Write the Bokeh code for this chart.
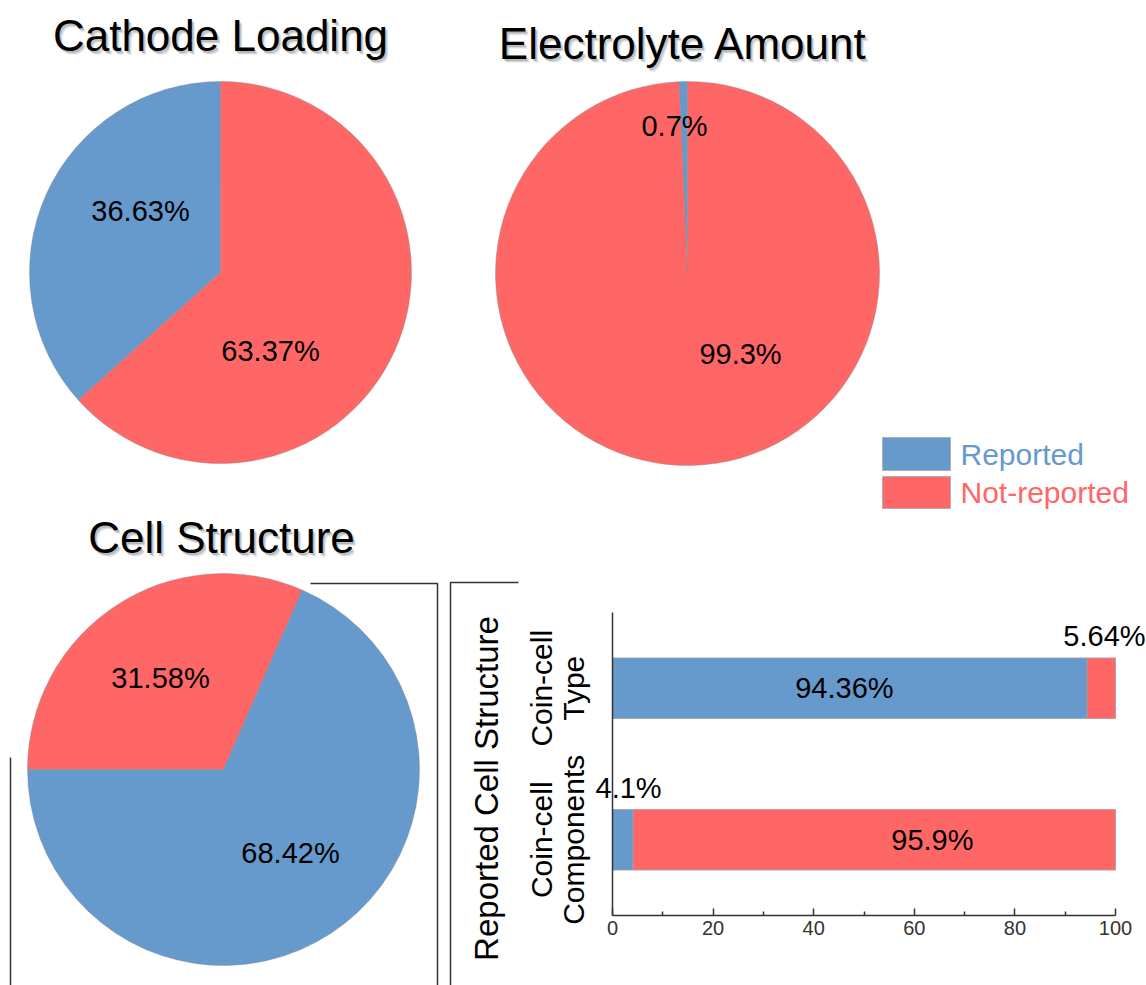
import math

from bokeh.core.properties import value
from bokeh.embed import file_html
from bokeh.models import ColumnDataSource, FixedTicker, LinearAxis, Range1d
from bokeh.plotting import figure
from bokeh.resources import INLINE

# ---------------------------------------------------------------- data
series_names = ["Reported", "Not-reported"]
cathode_loading = [36.63, 63.37]
electrolyte_amount = [0.7, 99.3]
cell_structure = [68.42, 31.58]

bar_categories = ["Coin-cell\nComponents", "Coin-cell\nType"]
bar_reported = [4.1, 94.36]
bar_not_reported = [95.9, 5.64]
x_ticks = [0, 20, 40, 60, 80, 100]
x_minor_ticks = [10, 30, 50, 70, 90]

# ---------------------------------------------------------------- style
BLUE = "#6699CC"
RED = "#FF6666"
COLORS = [BLUE, RED]
FONT = "Liberation Sans"
LINE = "#333333"
W, H = 1146, 985

p = figure(width=W, height=H, x_range=Range1d(0, W), y_range=Range1d(0, H),
           x_axis_location=None, y_axis_location=None,
           toolbar_location=None, output_backend="svg", min_border=0)
p.grid.visible = False
p.outline_line_color = None
p.background_fill_color = "white"
p.border_fill_color = "white"


def Y(py):
    """Page row (from the top) to plot coordinate (from the bottom)."""
    return H - py


def txt(x, y, s, size, color="black", align="center", angle=0.0, **kw):
    p.text(x=[x], y=[y], text=[s], text_font=value(FONT), text_font_size=size,
           text_align=align, text_baseline="middle", text_color=color, angle=angle, **kw)


def title(x, py, s):
    # soft drop shadow under the heading
    for d, a in [(1.5, 0.16), (2.5, 0.11), (3.5, 0.06)]:
        txt(x + d, Y(py) - d, s, "44px", text_alpha=a)
    txt(x, Y(py), s, "44px")


def pie(cx, cpy, r, values, start_deg, clockwise, order, label_offsets):
    cy = Y(cpy)
    sign = -1 if clockwise else 1
    a = math.radians(start_deg)
    starts, ends, cols = [], [], []
    for i in order:
        a2 = a + sign * 2 * math.pi * values[i] / 100.0
        if clockwise:
            starts.append(a2); ends.append(a)
        else:
            starts.append(a); ends.append(a2)
        cols.append(COLORS[i])
        a = a2
    src = ColumnDataSource(dict(x=[cx] * len(order), y=[cy] * len(order),
                                start=starts, end=ends, color=cols))
    p.wedge(x="x", y="y", radius=r, start_angle="start", end_angle="end",
            fill_color="color", line_color="#8a8a8a", line_width=0.6, line_alpha=0.7,
            source=src)
    for i, v in enumerate(values):
        dx, dy = label_offsets[i]
        txt(cx + dx, cy + dy, f"{v:g}%", "29px")


# ---------------------------------------------------------------- pies
title(220, 35, "Cathode Loading")
pie(220, 272, 191, cathode_loading, 90, False, [0, 1], [(-80, 62), (50, -78)])

title(683, 43, "Electrolyte Amount")
pie(687, 273, 192, electrolyte_amount, 90, False, [0, 1], [(-13, 148), (53, -80)])

title(221, 537, "Cell Structure")
pie(223, 769, 196, cell_structure, 180, True, [1, 0], [(67, -83), (-63, 92)])

# ---------------------------------------------------------------- legend
p.rect(x=[916, 916], y=[Y(453.5), Y(492)], width=68, height=[33, 32],
       fill_color=COLORS, line_color="#b0b0b0", line_width=1)
for name, col, py in zip(series_names, COLORS, [454, 492]):
    txt(960, Y(py), name, "30px", color=col, align="left")

# ---------------------------------------------------------------- bracket lines
p.line(x=[310, 437, 437], y=[Y(583), Y(583), 0], line_color=LINE, line_width=1.5)
p.line(x=[518, 450, 450], y=[Y(582), Y(582), 0], line_color=LINE, line_width=1.5)
p.line(x=[10, 10], y=[Y(757), 0], line_color=LINE, line_width=1.5)
txt(486, Y(788), "Reported Cell Structure", "33px", angle=math.pi / 2)

# ---------------------------------------------------------------- stacked bars
# percent scale: 0..100 spans x = 612..1115 ; category slots span y = 915..612 (top)
X0, X100 = 612, 1115
s_x = (X100 - X0) / 100.0
p.extra_x_ranges = {"pct": Range1d(-X0 / s_x, (W - X0) / s_x)}
YB, YT = Y(915), Y(612)
s_y = (YT - YB) / len(bar_categories)
p.extra_y_ranges = {"slot": Range1d(-YB / s_y, (H - YB) / s_y)}

slot = [i + 0.5 for i in range(len(bar_categories))]
src = ColumnDataSource(dict(slot=slot, reported=bar_reported, not_reported=bar_not_reported))
p.hbar_stack(["reported", "not_reported"], y="slot", height=0.4, color=COLORS,
             line_color="#a0a0a0", line_width=0.8, source=src,
             x_range_name="pct", y_range_name="slot")

lab = dict(text_font=value(FONT), text_font_size="29px", text_align="center",
           text_baseline="middle", text_color="black",
           x_range_name="pct", y_range_name="slot")
p.text(x=[46.1], y=[slot[1]], text=[f"{bar_reported[1]:g}%"], **lab)
p.text(x=[97.8], y=[slot[1] + 0.348], text=[f"{bar_not_reported[1]:g}%"], **lab)
p.text(x=[3.2], y=[slot[0] + 0.343], text=[f"{bar_reported[0]:g}%"], **lab)
p.text(x=[63.6], y=[slot[0]], text=[f"{bar_not_reported[0]:g}%"], **lab)

# category names, rotated, left of the bar axis
p.text(x=[557, 557], y=slot, text=bar_categories, angle=math.pi / 2,
       text_font=value(FONT), text_font_size="30px", text_align="center",
       text_baseline="middle", text_line_height=0.95, text_color="black",
       y_range_name="slot")

xa = LinearAxis(x_range_name="pct", ticker=FixedTicker(ticks=x_ticks, minor_ticks=x_minor_ticks),
                bounds=(0, 100), fixed_location=YB)
xa.axis_line_color = LINE
xa.axis_line_width = 1.5
xa.major_tick_line_color = LINE
xa.major_tick_line_width = 1.5
xa.minor_tick_line_color = LINE
xa.minor_tick_line_width = 1.5
xa.major_tick_in = 7
xa.major_tick_out = 0
xa.minor_tick_in = 4
xa.minor_tick_out = 0
xa.major_label_text_font = FONT
xa.major_label_text_font_size = "20px"
xa.major_label_text_color = "#333333"
xa.major_label_standoff = 5
p.add_layout(xa, "below")

ya = LinearAxis(y_range_name="slot", ticker=FixedTicker(ticks=[]), bounds=(0, len(bar_categories)),
                fixed_location=X0)
ya.axis_line_color = LINE
ya.axis_line_width = 1.5
ya.major_tick_line_color = None
ya.minor_tick_line_color = None
p.add_layout(ya, "left")

with open("out.html", "w") as f:
    f.write(file_html(p, INLINE))
